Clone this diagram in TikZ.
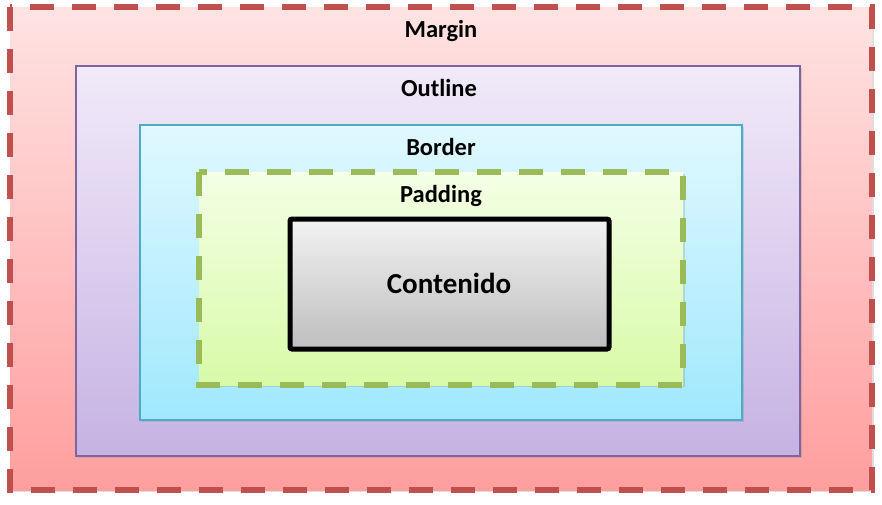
\documentclass[tikz,border=0pt]{standalone}
\usepackage{fontspec}
\setmainfont{Carlito}
\usetikzlibrary{shadows}
\definecolor{mgline}{RGB}{192,80,77}
\definecolor{olline}{RGB}{128,100,162}
\definecolor{bdline}{RGB}{75,172,198}
\definecolor{pdline}{RGB}{155,187,89}
\tikzset{
  lbl/.style={font=\fontsize{24.5}{28}\selectfont\bfseries, anchor=base, inner sep=0pt},
  boxshadow/.style={drop shadow={opacity=0.25, shadow xshift=2pt, shadow yshift=-2pt}},
  dashbox/.style={line width=5.5pt, dash pattern=on 24pt off 18pt},
}
\begin{document}
\begin{tikzpicture}[x=1pt,y=-1pt]
\useasboundingbox (0,0) rectangle (882,504);
% Margin
\path[boxshadow, top color={rgb,255:red,255;green,227;blue,227}, bottom color={rgb,255:red,255;green,158;blue,158}]
  (10,7) rectangle (872,490);
\draw[dashbox, draw=mgline] (10,7) rectangle (872,490);
% Outline
\path[boxshadow, top color={rgb,255:red,241;green,234;blue,249}, bottom color={rgb,255:red,198;green,178;blue,227}, draw=olline, line width=2pt]
  (76,66) rectangle (800,456);
% Border
\path[boxshadow, top color={rgb,255:red,224;green,248;blue,255}, bottom color={rgb,255:red,160;green,232;blue,254}, draw=bdline, line width=2pt]
  (140,125) rectangle (742,420);
% Padding
\path[boxshadow, top color={rgb,255:red,244;green,255;blue,229}, bottom color={rgb,255:red,216;green,250;blue,168}]
  (199,172) rectangle (683,385);
\draw[dashbox, draw=pdline] (199,172) rectangle (683,385);
% Contenido
\path[boxshadow, top color={rgb,255:red,242;green,242;blue,242}, bottom color={rgb,255:red,190;green,190;blue,190}, draw=black, line width=5pt, rounded corners=2pt]
  (290,219) rectangle (609,349);
% Labels
\node[lbl] (margin) at (441,37) {Margin};
\node[lbl] (outline) at (439,96) {Outline};
\node[lbl] (border) at (441,155) {Border};
\node[lbl] (padding) at (441,202) {Padding};
\node[lbl, font=\fontsize{29}{33}\selectfont\bfseries] (contenido) at (449,293) {Contenido};
\end{tikzpicture}
\end{document}
